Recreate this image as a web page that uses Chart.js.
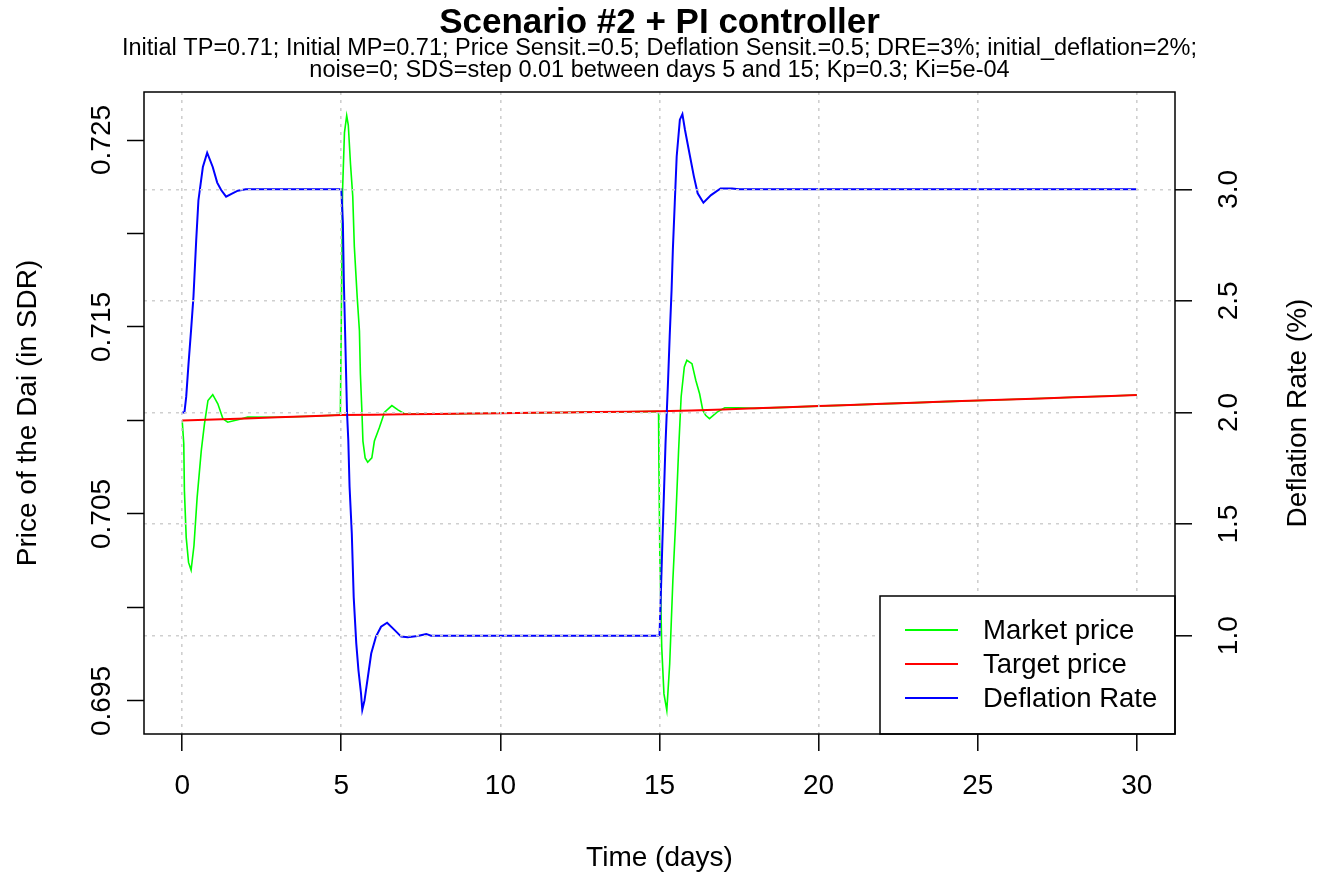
<!DOCTYPE html>
<html>
<head>
<meta charset="utf-8">
<title>Scenario #2 + PI controller</title>
<script src="https://cdn.jsdelivr.net/npm/chart.js@4.4.1/dist/chart.umd.min.js"></script>
<style>
  html, body { margin: 0; padding: 0; background: #fff; }
</style>
</head>
<body>
<canvas id="chart" width="1321" height="874"></canvas>
<script>
// ---- data ----
var marketDays = [0, 0.02, 0.05, 0.07, 0.126, 0.2, 0.28, 0.37, 0.47, 0.6, 0.7, 0.81, 0.96, 1.12, 1.28, 1.43, 1.75, 2.06, 3, 4,
    4.97, 5.0, 5.04, 5.1, 5.17, 5.22, 5.29, 5.36, 5.41, 5.5, 5.57, 5.6, 5.65, 5.68, 5.75, 5.83, 5.96, 6.04, 6.2, 6.36, 6.59, 6.78, 6.98, 7.5,
    8, 10, 12, 14, 14.97, 14.98, 15.01, 15.07, 15.14, 15.23, 15.32, 15.42, 15.51, 15.6, 15.68, 15.78, 15.86, 16.02, 16.14, 16.26, 16.36,
    16.45, 16.57, 16.81, 17.05, 17.47, 18, 20, 22, 24, 26, 28, 30];
var marketPrice = [0.7100, 0.7100, 0.70875, 0.70625, 0.70375, 0.70241, 0.7020, 0.7033, 0.70589, 0.70839, 0.70982, 0.71107, 0.71138, 0.71089, 0.71009, 0.70991, 0.71004, 0.71018, 0.71017, 0.71023,
    0.71029, 0.7153, 0.7223, 0.7254, 0.7263, 0.7258, 0.7237, 0.7220, 0.7193, 0.7166, 0.7148, 0.7125, 0.7104, 0.7089, 0.7080, 0.70777, 0.7080, 0.7089, 0.70964, 0.71044, 0.7108, 0.71057, 0.71036, 0.71034,
    0.71035, 0.71039, 0.71043, 0.71047, 0.71049, 0.70796, 0.70287, 0.69788, 0.69538, 0.6945, 0.69698, 0.70144, 0.70465, 0.7084, 0.71127, 0.71286, 0.71322, 0.71304, 0.71215, 0.71143, 0.71055,
    0.71028, 0.7101, 0.71045, 0.71068, 0.71068, 0.71065, 0.71077, 0.71089, 0.71101, 0.71112, 0.71124, 0.71136];

var targetDays = [0, 1, 2, 3, 4, 5, 6, 7, 8, 9, 10, 11, 12, 13, 14, 15, 16, 17, 18, 19, 20, 21, 22, 23, 24, 25, 26, 27, 28, 29, 30];
var targetPrice = [0.71000, 0.71005, 0.71011, 0.71017, 0.71023, 0.71029, 0.71031, 0.71033, 0.71035, 0.71037, 0.71039, 0.71041, 0.71043, 0.71045, 0.71047, 0.71049,
    0.71053, 0.71059, 0.71065, 0.71071, 0.71077, 0.71083, 0.71089, 0.71095, 0.71101, 0.71107, 0.71112, 0.71118, 0.71124, 0.7113, 0.71136];

var rateDays = [0, 0.07, 0.126, 0.2, 0.28, 0.355, 0.44, 0.51, 0.65, 0.785, 0.96, 1.1, 1.225, 1.38, 1.55, 1.75, 2.0, 5.0,
    5.05, 5.08, 5.12, 5.18, 5.22, 5.26, 5.33, 5.39, 5.47, 5.54, 5.62, 5.66, 5.73, 5.83, 5.94, 6.09, 6.25, 6.44, 6.67, 6.88, 7.09, 7.4, 7.67, 7.82, 15.0,
    15.04, 15.09, 15.14, 15.19, 15.27, 15.32, 15.38, 15.42, 15.48, 15.54, 15.64, 15.72, 15.8, 15.96, 16.08, 16.2, 16.38, 16.62, 16.92, 17.28, 17.5, 30];
var deflationRate = [2.0, 2.0, 2.07, 2.22, 2.37, 2.52, 2.77, 2.95, 3.10, 3.164, 3.10, 3.03, 2.997, 2.967, 2.98, 2.994, 3.0, 3.0,
    2.85, 2.59, 2.36, 2.0, 1.877, 1.667, 1.459, 1.173, 0.967, 0.844, 0.741, 0.668, 0.71, 0.81, 0.92, 0.996, 1.04, 1.058, 1.026, 0.996, 0.993, 0.999, 1.008, 1.0, 1.0,
    1.176, 1.415, 1.64, 1.864, 2.147, 2.34, 2.55, 2.73, 2.94, 3.147, 3.312, 3.337, 3.267, 3.147, 3.058, 2.982, 2.94, 2.974, 3.004, 3.004, 3.0, 3.0];

var dayTicks = [0, 5, 10, 15, 20, 25, 30];
var priceTicks = [0.695, 0.700, 0.705, 0.710, 0.715, 0.720, 0.725];
var priceTickLabels = ['0.695', '', '0.705', '', '0.715', '', '0.725'];
var rateTicks = [1.0, 1.5, 2.0, 2.5, 3.0];
var rateTickLabels = ['1.0', '1.5', '2.0', '2.5', '3.0'];

var titleText = 'Scenario #2 + PI controller';
var subtitleLines = [
    'Initial TP=0.71; Initial MP=0.71; Price Sensit.=0.5; Deflation Sensit.=0.5; DRE=3%; initial_deflation=2%;',
    'noise=0; SDS=step 0.01 between days 5 and 15; Kp=0.3; Ki=5e-04'
];

var FONT = '"Liberation Sans", Arial, sans-serif';
var GRID = '#cfcfcf';

function toPoints(xs, ys) {
    return xs.map(function (x, i) { return { x: x, y: ys[i] }; });
}

// titles, rotated y labels, legend box and frame (R style)
var decorations = {
    id: 'decorations',
    afterDraw: function (chart) {
        var ctx = chart.ctx;
        var a = chart.chartArea;
        var yl = chart.scales.yPrice;
        var yr = chart.scales.yRate;
        var cx = (a.left + a.right) / 2;

        ctx.save();
        ctx.fillStyle = '#000';

        // title + subtitle
        ctx.textAlign = 'center';
        ctx.textBaseline = 'alphabetic';
        ctx.font = 'bold 35px ' + FONT;
        ctx.fillText(titleText, cx, 33);
        ctx.font = '23.5px ' + FONT;
        ctx.fillText(subtitleLines[0], cx, 55);
        ctx.fillText(subtitleLines[1], cx, 77);

        // y tick labels, parallel to the axis
        ctx.font = '28px ' + FONT;
        priceTicks.forEach(function (v, i) {
            if (!priceTickLabels[i]) return;
            ctx.save();
            ctx.translate(110, yl.getPixelForValue(v));
            ctx.rotate(-Math.PI / 2);
            ctx.fillText(priceTickLabels[i], 0, 0);
            ctx.restore();
        });
        rateTicks.forEach(function (v, i) {
            ctx.save();
            ctx.translate(1237, yr.getPixelForValue(v));
            ctx.rotate(-Math.PI / 2);
            ctx.fillText(rateTickLabels[i], 0, 0);
            ctx.restore();
        });

        // axis titles
        ctx.save();
        ctx.translate(36, (a.top + a.bottom) / 2);
        ctx.rotate(-Math.PI / 2);
        ctx.fillText('Price of the Dai (in SDR)', 0, 0);
        ctx.restore();
        ctx.save();
        ctx.translate(1306, (a.top + a.bottom) / 2);
        ctx.rotate(-Math.PI / 2);
        ctx.fillText('Deflation Rate (%)', 0, 0);
        ctx.restore();
        ctx.fillText('Time (days)', cx, 866);

        // legend box in the bottom right corner of the plot
        var boxW = 295, boxH = 138;
        var bx = a.right - boxW, by = a.bottom - boxH;
        ctx.fillStyle = '#fff';
        ctx.fillRect(bx, by, boxW, boxH);
        ctx.strokeStyle = '#000';
        ctx.lineWidth = 1.5;
        ctx.strokeRect(bx, by, boxW, boxH);
        ctx.font = '27.5px ' + FONT;
        ctx.textAlign = 'left';
        ctx.textBaseline = 'middle';
        chart.data.datasets.forEach(function (ds, i) {
            var ly = by + 34 + i * 34;
            ctx.strokeStyle = ds.borderColor;
            ctx.lineWidth = 2;
            ctx.beginPath();
            ctx.moveTo(bx + 25, ly);
            ctx.lineTo(bx + 78, ly);
            ctx.stroke();
            ctx.fillStyle = '#000';
            ctx.fillText(ds.label, bx + 103, ly + 1);
        });

        // plot frame
        ctx.strokeStyle = '#000';
        ctx.lineWidth = 1.5;
        ctx.strokeRect(a.left, a.top, a.right - a.left, a.bottom - a.top);
        ctx.restore();
    }
};

var ctx = document.getElementById('chart').getContext('2d');
var chart = new Chart(ctx, {
    type: 'line',
    data: {
        datasets: [
            {
                label: 'Market price',
                data: toPoints(marketDays, marketPrice),
                borderColor: '#00ff00',
                borderWidth: 1.6,
                yAxisID: 'yPrice',
                order: 3
            },
            {
                label: 'Target price',
                data: toPoints(targetDays, targetPrice),
                borderColor: '#ff0000',
                borderWidth: 2,
                yAxisID: 'yPrice',
                order: 2
            },
            {
                label: 'Deflation Rate',
                data: toPoints(rateDays, deflationRate),
                borderColor: '#0000ff',
                borderWidth: 2,
                yAxisID: 'yRate',
                order: 1
            }
        ]
    },
    options: {
        responsive: false,
        animation: false,
        events: [],
        devicePixelRatio: 1,
        elements: {
            line: { tension: 0, fill: false },
            point: { radius: 0 }
        },
        layout: { padding: { top: 92, left: 0, right: 0, bottom: 0 } },
        plugins: {
            legend: { display: false },
            tooltip: { enabled: false },
            title: { display: false }
        },
        scales: {
            x: {
                type: 'linear',
                min: -1.2,
                max: 31.2,
                afterBuildTicks: function (s) { s.ticks = dayTicks.map(function (v) { return { value: v }; }); },
                afterFit: function (s) { s.height = 140; },
                ticks: {
                    color: '#000',
                    font: { family: FONT, size: 28 },
                    padding: 18,
                    maxRotation: 0,
                    autoSkip: false
                },
                grid: {
                    color: GRID,
                    lineWidth: 1.6,
                    z: 1,
                    tickLength: 17,
                    tickColor: '#000',
                    tickWidth: 1.5
                },
                border: { display: false, dash: [3, 5] }
            },
            yPrice: {
                type: 'linear',
                position: 'left',
                min: 0.693235,
                max: 0.727567,
                afterBuildTicks: function (s) { s.ticks = priceTicks.map(function (v) { return { value: v }; }); },
                afterFit: function (s) { s.width = 144; },
                ticks: { display: false },
                grid: {
                    drawOnChartArea: false,
                    tickLength: 17,
                    tickColor: '#000',
                    tickWidth: 1.5
                },
                border: { display: false }
            },
            yRate: {
                type: 'linear',
                position: 'right',
                min: 0.5596,
                max: 3.436,
                afterBuildTicks: function (s) { s.ticks = rateTicks.map(function (v) { return { value: v }; }); },
                afterFit: function (s) { s.width = 146; },
                ticks: { display: false },
                grid: {
                    color: GRID,
                    lineWidth: 1.6,
                    z: 1,
                    tickLength: 17,
                    tickColor: '#000',
                    tickWidth: 1.5
                },
                border: { display: false, dash: [3, 5] }
            }
        }
    },
    plugins: [decorations]
});
</script>
</body>
</html>
